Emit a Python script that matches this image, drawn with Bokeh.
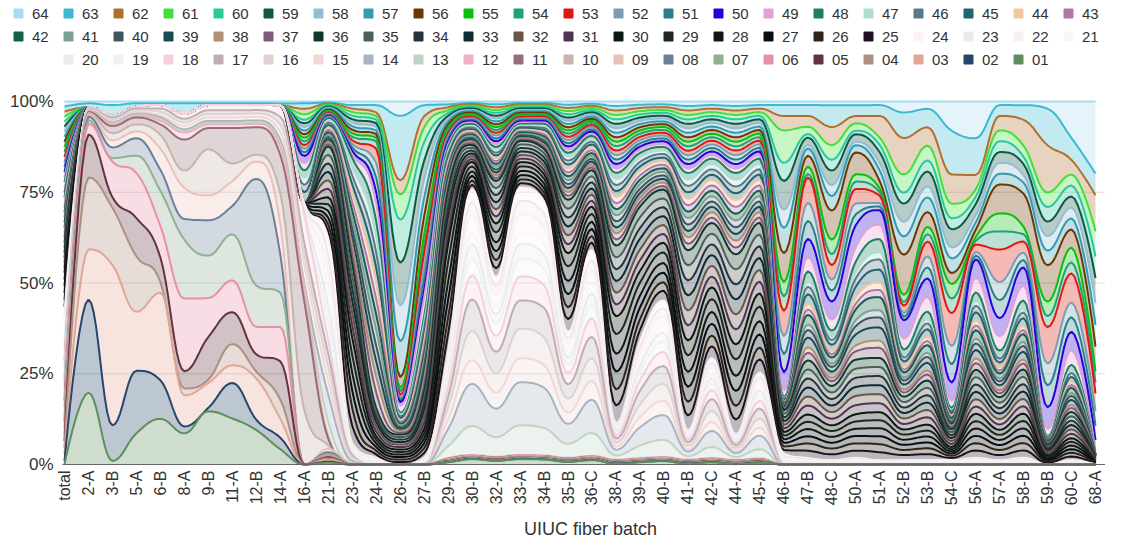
import math
import numpy as np
from bokeh.plotting import figure
from bokeh.models import Range1d
from bokeh.embed import file_html
from bokeh.resources import INLINE
from bokeh.core.properties import value

categories = ["total", "2-A", "3-B", "5-A", "6-B", "8-A", "9-B", "11-A", "12-B", "14-A",
              "16-A", "21-B", "23-A", "24-B", "26-A", "27-B", "29-A", "30-B", "32-A", "33-A",
              "34-B", "35-B", "36-C", "38-A", "39-A", "40-B", "41-B", "42-C", "44-A", "45-A",
              "46-B", "47-B", "48-C", "50-A", "51-A", "52-B", "53-B", "54-C", "56-A", "57-A",
              "58-B", "59-B", "60-C", "68-A"]

names = ["%02d" % k for k in range(1, 65)]

colors = ["#5E8F5E", "#26466A", "#E3A595", "#AD9080", "#63343F", "#E890A8", "#90B090", "#6A8098",
          "#EBC0B8", "#C8B4AC", "#947078", "#F0B0C0", "#C0D4C4", "#A8B4C4", "#F2D8D5", "#E0D2D0",
          "#C0AFB2", "#F5D0DC", "#EEF3F0", "#E8ECEF", "#FBF5F3", "#F8F0F2", "#EEE8EA", "#FDF3F4",
          "#1E1220", "#2E2419", "#050F15", "#12161A", "#1E2620", "#0B1A10", "#4E3550", "#6A5548",
          "#0F2A33", "#27333A", "#4D6058", "#0E3A2B", "#805A7A", "#B09075", "#1B4A55", "#3F5661",
          "#7F9F97", "#156048", "#B078A8", "#F0C8A2", "#22656D", "#5A7888", "#B0DDD2", "#1A8060",
          "#E0A0D8", "#2A00D8", "#2A808A", "#7A9EB0", "#E0190E", "#22A07C", "#0CBF0C", "#6B3900",
          "#339BB0", "#93BDD0", "#0E5944", "#2CC79B", "#40E03A", "#B0702F", "#3DB8D0", "#A8DCF3"]

s01 = [0, 20,1,9,13,9,15,13,10,4, 0, 0.5,0,0,0,0, 0.6,1.5,1,1.5,1.4,0.7,1.2,0.2,0.6,0.9,0.2,0.6,0.1,0.5, 0,0,0,0,0,0,0,0,0,0,0,0,0,0]
s02 = [1, 26,10,18,11,2,1,10,3,3, 0, 0.3,0,0,0,0, 0.1,0.1,0.1,0.1,0.1,0.1,0.1,0.1,0.1,0.1,0.1,0.1,0.1,0.1, 0,0,0,0,0,0,0,0,0,0,0,0,0,0]
s03 = [2, 14,45,17,25,9,7,5,12,5, 0, 0.5,0,0,0,0, 0.1,0.1,0.1,0.1,0.1,0.1,0.1,0.1,0.1,0.1,0.1,0.1,0.1,0.1, 0,0,0,0,0,0,0,0,0,0,0,0,0,0]
s04 = [2, 20,16,16,3,2,1,6,2,5, 0, 0.5,0,0,0,0, 0.1,0.1,0.1,0.1,0.1,0.1,0.1,0.1,0.1,0.1,0.1,0.1,0.1,0.1, 0,0,0,0,0,0,0,0,0,0,0,0,0,0]
s05 = [2, 12,3,11,7,5,12,9,5,10, 0, 0.3,0,0,0,0, 0.1,0.1,0.1,0.1,0.1,0.1,0.1,0.1,0.1,0.1,0.1,0.1,0.1,0.1, 0,0,0,0,0,0,0,0,0,0,0,0,0,0]
s06 = [2, 3,10,13,9,21,11,9,8,9, 0, 0.5,0,0,0,0, 0.1,0.1,0.1,0.1,0.1,0.1,0.1,0.1,0.1,0.1,0.1,0.1,0.1,0.1, 0,0,0,0,0,0,0,0,0,0,0,0,0,0]
s07 = [2, 1,1,5,10,17,12,13,12,9, 0, 0.5,0,0,0,0, 0.1,0.1,0.1,0.1,0.1,0.1,0.1,0.1,0.1,0.1,0.1,0.1,0.1,0.1, 0,0,0,0,0,0,0,0,0,0,0,0,0,0]
s08 = [2, 1,3,5,6,6,10,8,31,10, 0, 0.5,0,0,0,0, 0.1,0.1,0.1,0.1,0.1,0.1,0.1,0.1,0.1,0.1,0.1,0.1,0.1,0.1, 0,0,0,0,0,0,0,0,0,0,0,0,0,0]
s09 = [2, 0.5,2,2,6,9,7,7,5,8, 0, 1,0,0,0,0, 0.1,0.1,0.1,0.1,0.1,0.1,0.1,0.1,0.1,0.1,0.1,0.1,0.1,0.1, 0,0,0,0,0,0,0,0,0,0,0,0,0,0]
s10 = [2, 0.5,2,2,4,5,13,5,2,8, 15, 1,0,0,0,0, 0.1,0.1,0.1,0.1,0.1,0.1,0.1,0.1,0.1,0.1,0.1,0.1,0.1,0.1, 0,0,0,0,0,0,0,0,0,0,0,0,0,0]
s11 = [2, 0.3,2,2,3,9,6,10,8,10, 30, 2,0,0,0,0, 0.1,0.1,0.1,0.1,0.1,0.1,0.1,0.1,0.1,0.1,0.1,0.1,0.1,0.1, 0,0,0,0,0,0,0,0,0,0,0,0,0,0]
s12 = [2, 0.2,0.5,0.5,1,2,1,1,1,2, 3, 1,0,0,0,0, 0.2,0.2,0.2,0.2,0.2,0.2,0.2,0.2,0.2,0.2,0.2,0.2,0.2,0.2, 0,0,0,0,0,0,0,0,0,0,0,0,0,0]
s13 = [2, 0.2,0.3,0.3,0.5,0.5,0.5,0.5,0.5,1, 1, 4,0.5,0,0,0, 3.3,8.3,5.5,8.4,7.9,3.9,6.4,1.1,3.5,4.8,0.9,3.1,0.8,2.6, 0,0,0,0,0,0,0,0,0,0,0,0,0,0]
s14 = [2, 0.2,0.3,0.3,0.5,0.5,0.5,0.5,0.5,1, 1, 8,0.5,0,0,0, 4.8,12,8,12.2,11.5,5.6,9.3,1.6,5.1,7,1.3,4.5,1.1,3.8, 0,0,0,0,0,0,0,0,0,0,0,0,0,0]
s15 = [2, 0.2,0.3,0.5,0.5,1,1,1,1,2, 5, 4,0.5,0,0,0, 2.7,6.8,4.5,6.8,6.5,3.2,5.2,0.9,2.9,4,0.7,2.5,0.6,2.2, 0,0,0,0,0,0,0,0,0,0,0,0,0,0]
s16 = [2, 0.2,0.5,0.5,1,1,1,1,1,2, 3, 4,0.5,0,0,0, 3.3,8.3,5.5,8.4,7.9,3.9,6.4,1.1,3.5,4.8,0.9,3.1,0.8,2.6, 0,0,0,0,0,0,0,0,0,0,0,0,0,0]
s17 = [2, 0.2,0.5,0.5,1,1,1,1,1,2, 3, 4,0.5,0,0,0, 3,9,6,8,8.5,4,6,1.2,3.8,5,1,3.3,0.8,2.8, 0,0,0,0,0,0,0,0,0,0,0,0,0,0]
s18 = [2, 0.2,0.5,0.5,1,1.5,1.5,1.5,1.5,3, 8, 4,0.5,0,0,0, 2.7,6.8,4.5,6.8,6.5,3.2,5.2,0.9,2.9,4,0.7,2.5,0.6,2.2, 0,0,0,0,0,0,0,0,0,0,0,0,0,0]
s19 = [2, 0,0,0,0,0,0,0,0,0, 0.5, 5,0.5,0.3,0,0.3, 2,4.9,3.3,5,4.8,2.3,3.8,0.7,2.2,2.9,0.5,1.8,0.5,1.6, 0.5,0.3,0.2,0.3,0.2,0.2,0.2,0.2,0.3,0.2,0.3,0,0.2,0]
s20 = [2, 0,0,0,0,0,0,0,0,0, 0.5, 5,0.5,0.3,0,0.3, 1.65,4.1,2.75,4.2,4,1.9,3.2,0.55,1.8,2.4,0.44,1.5,0.4,1.3, 0.5,0.3,0.2,0.3,0.2,0.2,0.2,0.2,0.3,0.2,0.3,0,0.2,0]
s21 = [2, 0,0,0,0,0,0,0,0,0, 0.5, 5,0.5,0.3,0,0.3, 1.3,3.3,2.2,3.4,3.2,1.5,2.6,0.4,1.4,1.9,0.35,1.2,0.3,1, 0.5,0.3,0.2,0.3,0.2,0.2,0.2,0.2,0.3,0.2,0.3,0,0.2,0]
s22 = [2, 0,0,0,0,0,0,0,0,0, 0.5, 5,0.5,0.3,0,0.3, 2,4.9,3.3,5,4.8,2.3,3.8,0.7,2.2,2.9,0.5,1.8,0.5,1.6, 0.5,0.3,0.2,0.3,0.2,0.2,0.2,0.2,0.3,0.2,0.3,0,0.2,0]
s23 = [2, 0,0,0,0,0,0,0,0,0, 0.5, 5,0.5,0.3,0,0.3, 1.5,3.7,2.5,3.8,3.6,1.7,2.9,0.5,1.6,2.2,0.4,1.35,0.36,1.2, 0.5,0.3,0.2,0.3,0.2,0.2,0.2,0.2,0.3,0.2,0.3,0,0.2,0]
s24 = [2, 0,0,0,0,0,0,0,0,0, 0.5, 5,0.5,0.3,0,0.3, 1.5,3.7,2.5,3.8,3.6,1.7,2.9,0.5,1.6,2.2,0.4,1.35,0.36,1.2, 0.5,0.3,0.2,0.3,0.2,0.2,0.2,0.2,0.3,0.2,0.3,0,0.2,0]
s25 = [2, 0,0,0,0,0,0,0,0,0, 0, 2,5,1,0.7,1.3, 5,1.3,2.5,1.2,1.3,3.7,2,5,3.3,2.7,4.2,3.3,4.2,3.7, 1,2,1.6,2,2.2,1.4,1.6,0.6,2,1.4,2,0.4,1,0.1]
s26 = [2, 0,0,0,0,0,0,0,0,0, 0, 2,5,1,0.7,1.3, 4.5,1.2,2.3,1.1,1.2,3.3,1.8,4.5,3,2.4,3.8,3,3.8,3.3, 1,2,1.6,2,2.2,1.4,1.6,0.6,2,1.4,2,0.4,1,0.1]
s27 = [2, 0,0,0,0,0,0,0,0,0, 0, 2,5,1,0.7,1.3, 5,1.3,2.5,1.2,1.3,3.7,2,5,3.3,2.7,4.2,3.3,4.2,3.7, 1,2,1.6,2,2.2,1.4,1.6,0.6,2,1.4,2,0.4,1,0.1]
s28 = [2, 0,0,0,0,0,0,0,0,0, 0, 2,5,1,0.7,1.3, 5,1.3,2.5,1.2,1.3,3.7,2,5,3.3,2.7,4.2,3.3,4.2,3.7, 1,2,1.6,2,2.2,1.4,1.6,0.6,2,1.4,2,0.4,1,0.1]
s29 = [2, 0,0,0,0,0,0,0,0,0, 0, 2,5,1,0.7,1.3, 5.5,1.4,2.8,1.3,1.4,4.1,2.2,5.5,3.6,3,4.6,3.6,4.6,4.1, 1,2,1.6,2,2.2,1.4,1.6,0.6,2,1.4,2,0.4,1,0.1]
s30 = [2, 0,0,0,0,0,0,0,0,0, 0, 2,5,1,0.7,1.3, 5,1.3,2.5,1.2,1.3,3.7,2,5,3.3,2.7,4.2,3.3,4.2,3.7, 1,2,1.6,2,2.2,1.4,1.6,0.6,2,1.4,2,0.4,1,0.1]
s31 = [1.5, 0,0,0,0,0,0,0,0,0, 0, 2.5,3.5,1.3,0.7,1.7, 2.5,0.8,2,1,1.2,2.5,1.7,3.3,3,2.5,4.2,3,4.2,3.3, 1,2.5,1.8,2.5,2.5,1.5,2,0.8,2,1.5,2,0.5,1.2,0.3]
s32 = [1.5, 0,0,0,0,0,0,0,0,0, 0, 2.5,3.5,1.3,0.7,1.7, 2.5,0.8,2,1,1.2,2.5,1.7,3.3,3,2.5,4.2,3,4.2,3.3, 1,2.5,1.8,2.5,2.5,1.5,2,0.8,2,1.5,2,0.5,1.2,0.3]
s33 = [1.5, 0,0,0,0,0,0,0,0,0, 0, 2.5,3.5,1.3,0.7,1.7, 2.5,0.8,2,1,1.2,2.5,1.7,3.3,3,2.5,4.2,3,4.2,3.3, 1,2.5,1.8,2.5,2.5,1.5,2,0.8,2,1.5,2,0.5,1.2,0.3]
s34 = [1.5, 0,0,0,0,0,0,0,0,0, 0, 2.5,3.5,1.3,0.7,1.7, 2.5,0.8,2,1,1.2,2.5,1.7,3.3,3,2.5,4.2,3,4.2,3.3, 1,2.5,1.8,2.5,2.5,1.5,2,0.8,2,1.5,2,0.5,1.2,0.3]
s35 = [1.5, 0,0,0,0,0,0,0,0,0, 0, 2.5,3.5,1.3,0.7,1.7, 2.5,0.8,2,1,1.2,2.5,1.7,3.3,3,2.5,4.2,3,4.2,3.3, 1,2.5,1.8,2.5,2.5,1.5,2,0.8,2,1.5,2,0.5,1.2,0.3]
s36 = [1.5, 0,0,0,0,0,0,0,0,0, 0, 2.5,3.5,1.3,0.7,1.7, 2.5,0.8,2,1,1.2,2.5,1.7,3.3,3,2.5,4.2,3,4.2,3.3, 1,2.5,1.8,2.5,2.5,1.5,2,0.8,2,1.5,2,0.5,1.2,0.3]
s37 = [1.5, 0,0,0,0,0,0,0,0,0, 0, 0.7,2.5,4.3,0.5,1.7, 1,0.5,0.8,0.4,0.6,1.1,0.8,1.7,1.25,1,1.8,1.5,1.9,1.5, 0.3,2.1,1.3,2.3,2.8,1.1,1.6,0.5,1.8,1.1,1.6,0.2,1.1,0.03]
s38 = [1.5, 0,0,0,0,0,0,0,0,0, 0, 0.7,2.5,4.3,0.5,1.7, 1,0.5,0.8,0.4,0.6,1.1,0.8,1.7,1.25,1,1.8,1.5,1.9,1.5, 0.2,1.5,0.9,1.6,2,0.8,1.1,0.35,1.3,0.8,1.1,0.14,0.8,0.02]
s39 = [1.5, 0,0,0,0,0,0,0,0,0, 0, 0.7,2.5,4.3,0.5,1.7, 1,0.5,0.8,0.4,0.6,1.1,0.8,1.7,1.25,1,1.8,1.5,1.9,1.5, 0.4,2.7,1.7,3,3.6,1.4,2.1,0.65,2.3,1.4,2.1,0.26,1.4,0.04]
s40 = [1.5, 0,0,0,0,0,0,0,0,0, 0, 0.7,2.5,4.3,0.5,1.7, 1,0.5,0.8,0.4,0.6,1.1,0.8,1.7,1.25,1,1.8,1.5,1.9,1.5, 0.3,2.1,1.3,2.3,2.8,1.1,1.6,0.5,1.8,1.1,1.6,0.2,1.1,0.03]
s41 = [1.5, 0,0,0,0,0,0,0,0,0, 0, 0.7,2.5,4.3,0.5,1.7, 1,0.5,0.8,0.4,0.6,1.1,0.8,1.7,1.25,1,1.8,1.5,1.9,1.5, 0.2,1.5,0.9,1.6,2,0.8,1.1,0.35,1.3,0.8,1.1,0.14,0.8,0.02]
s42 = [1.5, 0,0,0,0,0,0,0,0,0, 0, 0.7,2.5,4.3,0.5,1.7, 1,0.5,0.8,0.4,0.6,1.1,0.8,1.7,1.25,1,1.8,1.5,1.9,1.5, 0.4,2.7,1.7,3,3.6,1.4,2.1,0.65,2.3,1.4,2.1,0.26,1.4,0.04]
s43 = [1.5, 0,0,0,0,0,0,0,0,0, 0, 0.7,2.5,4.3,0.5,1.7, 1,0.5,0.8,0.4,0.6,1.1,0.8,1.7,1.25,1,1.8,1.5,1.9,1.5, 0.2,1.5,0.9,1.6,2,0.8,1.1,0.35,1.3,0.8,1.1,0.14,0.8,0.02]
s44 = [1.5, 0,0,0,0,0,0,0,0,0, 0, 0.7,2.5,4.3,0.5,1.7, 1,0.5,0.8,0.4,0.6,1.1,0.8,1.7,1.25,1,1.8,1.5,1.9,1.5, 0.2,1.5,0.9,1.6,2,0.8,1.1,0.35,1.3,0.8,1.1,0.14,0.8,0.02]
s45 = [1.5, 0,0,0,0,0,0,0,0,0, 3, 0.7,2.5,4.3,0.5,1.7, 1,0.5,0.8,0.4,0.6,1.1,0.8,1.7,1.25,1,1.8,1.5,1.9,1.5, 0.4,2.7,1.7,3,3.6,1.4,2.1,0.65,2.3,1.4,2.1,0.26,1.4,0.04]
s46 = [1.5, 0,0,0,0,0,0,0,0,0, 2, 0.7,2.5,4.3,0.5,1.7, 1,0.5,0.8,0.4,0.6,1.1,0.8,1.7,1.25,1,1.8,1.5,1.9,1.5, 0.3,2.1,1.3,2.3,2.8,1.1,1.6,0.5,1.8,1.1,1.6,0.2,1.1,0.03]
s47 = [1.5, 0,0,0,0,0,0,0,0,0, 2, 0.7,2.5,4.3,0.5,1.7, 1,0.5,0.8,0.4,0.6,1.1,0.8,1.7,1.25,1,1.8,1.5,1.9,1.5, 0.2,1.5,0.9,1.6,2,0.8,1.1,0.35,1.3,0.8,1.1,0.14,0.8,0.02]
s48 = [1.5, 0,0,0,0,0,0,0,0,0, 2, 0.7,2.5,4.3,0.5,1.7, 1,0.5,0.8,0.4,0.6,1.1,0.8,1.7,1.25,1,1.8,1.5,1.9,1.5, 0.4,2.7,1.7,3,3.6,1.4,2.1,0.65,2.3,1.4,2.1,0.26,1.4,0.04]
s49 = [1.5, 0,0,0,0,0,0,0,0,0, 2, 0.3,1,5,2,5, 0.8,0.4,0.8,0.4,0.4,0.9,0.6,1.25,0.9,0.8,1.25,1,1.25,1, 2,4,3,4,4,3,4,2,4,4,4,2,4,1]
s50 = [1.5, 0,0,0,0,0,0,0,0,0, 2, 0.3,1,3,1,2, 0.8,0.4,0.8,0.4,0.4,0.9,0.6,1.25,0.9,0.8,1.25,1,1.25,1, 5,5,5,6,4,5,5,5,5,5,5,6,5,3]
s51 = [1.5, 0,0,0,0,0,0,0,0,0, 1, 0.3,1,4,0.5,3, 0.8,0.4,0.8,0.4,0.4,0.9,0.6,1.25,0.9,0.8,1.25,1,1.25,1, 5,5,3,3,1,1,3,5,1,5,2,6,4,4]
s52 = [1.5, 0,0,0,0,0,0,0,0,0, 1, 0.3,1,4,0.5,3, 0.8,0.4,0.8,0.4,0.4,0.9,0.6,1.25,0.9,0.8,1.25,1,1.25,1, 5,5,3,3,1,1,3,5,1,5,2,6,4,4]
s53 = [1.5, 0,0,0,0,0,0,0,0,0, 1, 0.3,1,4,1,4, 0.8,0.4,0.8,0.4,0.4,0.9,0.6,1.25,0.9,0.8,1.25,1,1.25,1, 7,7,4,4,2,2,4,9,2,9,3,10,8,5]
s54 = [1.5, 0,0,0,0,0,0,0,0,0, 1, 0.3,1,2,1,2, 0.8,0.4,0.8,0.4,0.4,0.9,0.6,1.25,0.9,0.8,1.25,1,1.25,1, 4,1,3,2,1,1,2,4,1,5,2,3,3,3]
s55 = [1.5, 0,0,0,0,0,0,0,0,0, 1, 0.3,1,1,1,3, 0.8,0.4,0.8,0.4,0.4,0.9,0.6,1.25,0.9,0.8,1.25,1,1.25,1, 4,2,4,2,1,2,2,4,1,5,2,4,4,3]
s56 = [1.5, 0,0,0,0,0,0,0,0,0, 1, 0.3,1,1,3,5, 0.8,0.4,0.8,0.4,0.4,0.9,0.6,1.25,0.9,0.8,1.25,1,1.25,1, 8,3,8,6,2,11,4,3,2,8,9,10,5,7]
s57 = [1.5, 0,0,0,0,0,0,0,0,0, 1, 0.3,1,1,10,5, 0.8,0.4,0.8,0.4,0.4,0.9,0.6,1.25,0.9,0.8,1.25,1,1.25,1, 7,2,4,2,3,5,4,4,2,3,3,4,3,6]
s58 = [1.5, 0,0,0,0,0,0,0,0,0, 1, 0.3,1,1,10,5, 0.8,0.4,0.8,0.4,0.4,0.9,0.6,1.25,0.9,0.8,1.25,1,1.25,1, 5,1,3,1,2,4,3,3,2,3,2,4,3,6]
s59 = [1.5, 0,0,0,0,0,0,0,0,0, 1, 0.3,1,1,12,5, 0.8,0.4,0.8,0.4,0.4,0.9,0.6,1.25,0.9,0.8,1.25,1,1.25,1, 8,2,4,2,3,5,4,5,3,3,3,4,3,7]
s60 = [1.5, 0,0,0,0,0,0,0,0,0, 1, 0.3,1,1,12,5, 0.8,0.4,0.8,0.4,0.4,0.9,0.6,1.25,0.9,0.8,1.25,1,1.25,1, 5,1,3,1,2,3,3,3,2,3,2,4,3,6]
s61 = [1.5, 0,0,0,0,0,0,0,0,0, 1.5, 0.3,1,1,7,4, 0.8,0.4,0.8,0.4,0.4,0.9,0.6,1.25,0.9,0.8,1.25,1,1.25,1, 9,2,4,2,2,5,4,4,2,3,3,4,3,7]
s62 = [1.5, 0,0,0,0,0,0,0,0,0, 1.5, 0.3,1,1,4,3, 0.8,0.4,0.8,0.4,0.4,0.9,0.6,1.25,0.9,0.8,1.25,1,1.25,1, 4,3,5,2,6,10,5,8,4,4,7,13,4,10]
s63 = [1.5, 1,3,1,0.5,3,0.5,0.5,0.5,0.5, 1.5, 0.3,1,2,18,3, 0.8,0.4,0.8,0.4,0.4,0.9,0.6,1.25,0.9,0.8,1.25,1,1.25,1, 3,3,6,3,3,7,5,12,10,3,4,10,6,6]
s64 = [1.5, 0.5,1,0.5,0.5,0.5,0.5,0.5,0.5,0.5, 0.5, 0.3,1,1,4,1, 0.8,0.4,0.8,0.4,0.4,0.9,0.6,1.25,0.9,0.8,1.25,1,1.25,1, 1,1,1,1,1,3,2,8,10,1,1,2,10,20]

series = [s01, s02, s03, s04, s05, s06, s07, s08, s09, s10, s11, s12, s13, s14, s15, s16,
          s17, s18, s19, s20, s21, s22, s23, s24, s25, s26, s27, s28, s29, s30, s31, s32,
          s33, s34, s35, s36, s37, s38, s39, s40, s41, s42, s43, s44, s45, s46, s47, s48,
          s49, s50, s51, s52, s53, s54, s55, s56, s57, s58, s59, s60, s61, s62, s63, s64]

y_ticks = [0, 25, 50, 75, 100]
y_tick_labels = ["0%", "25%", "50%", "75%", "100%"]
x_title = "UIUC fiber batch"

FONT = "Liberation Sans"
TXT = "#333333"

# ---------------- canvas geometry (pixels) ----------------
W, H = 1105, 540
PLOT_LEFT = 62.0
X_FIRST, X_LAST = 64.0, 1095.0          # pixel of first / last category
Y_TOP, Y_BOT = 101.0, 464.0             # pixel of 100% / 0%
ncat = len(categories)
DX = (X_LAST - X_FIRST) / (ncat - 1)
DY = (Y_BOT - Y_TOP) / 100.0


def xd(px):
    return (px - X_FIRST) / DX


def yd(py):
    return (Y_BOT - py) / DY


# ---------------- percent stacking ----------------
data = np.array(series, dtype=float)
pct = data / data.sum(axis=0) * 100.0
cum = np.vstack([np.zeros(ncat), np.cumsum(pct, axis=0)])
xs = np.arange(ncat, dtype=float)


def spline_curve(x, y, n=10):
    """Highcharts-style spline path, sampled for drawing."""
    N = len(x)
    lcx = x.copy(); lcy = y.copy(); rcx = x.copy(); rcy = y.copy()
    for i in range(1, N - 1):
        px, py = x[i], y[i]
        lx, ly = x[i - 1], y[i - 1]
        nx, ny = x[i + 1], y[i + 1]
        a = (1.5 * px + lx) / 2.5
        b = (1.5 * py + ly) / 2.5
        c = (1.5 * px + nx) / 2.5
        d = (1.5 * py + ny) / 2.5
        corr = ((d - b) * (c - px)) / (c - a) + py - d
        b += corr
        d += corr
        if b > ly and b > py:
            b = max(ly, py); d = 2 * py - b
        elif b < ly and b < py:
            b = min(ly, py); d = 2 * py - b
        if d > ny and d > py:
            d = max(ny, py); b = 2 * py - d
        elif d < ny and d < py:
            d = min(ny, py); b = 2 * py - d
        lcx[i], lcy[i], rcx[i], rcy[i] = a, b, c, d
    t = np.linspace(0, 1, n, endpoint=False)
    mt = 1 - t
    X, Y = [], []
    for i in range(1, N):
        X.append(mt**3 * x[i-1] + 3 * mt**2 * t * rcx[i-1] + 3 * mt * t**2 * lcx[i] + t**3 * x[i])
        Y.append(mt**3 * y[i-1] + 3 * mt**2 * t * rcy[i-1] + 3 * mt * t**2 * lcy[i] + t**3 * y[i])
    X.append(np.array([x[-1]]))
    Y.append(np.array([y[-1]]))
    return np.concatenate(X), np.concatenate(Y)


curves = [spline_curve(xs, cum[k]) for k in range(cum.shape[0])]
X = curves[0][0]

p = figure(width=W, height=H, x_range=Range1d(xd(0), xd(W)), y_range=Range1d(yd(H), yd(0)),
           output_backend="svg", toolbar_location=None, min_border=0,
           x_axis_type=None, y_axis_type=None)
p.outline_line_color = None
p.background_fill_color = "white"
p.border_fill_color = "white"

# grid lines
p.segment(x0=[xd(PLOT_LEFT)] * 4, y0=[0, 25, 50, 75], x1=[xd(W)] * 4, y1=[0, 25, 50, 75],
          line_color="#dddddd", line_width=1)

# stacked areas (series "64" first, "01" last => on top)
for k in range(63, -1, -1):
    lo = curves[k][1]
    hi = curves[k + 1][1]
    p.varea(x=X, y1=lo, y2=hi, fill_color=colors[k], fill_alpha=0.3)
    p.line(X, hi, line_color=colors[k], line_width=2)

# x axis line
p.segment(x0=[xd(PLOT_LEFT)], y0=[0], x1=[xd(W)], y1=[0], line_color="#666666", line_width=1)

# y tick labels
p.text(x=[xd(53)] * len(y_ticks), y=y_ticks, text=y_tick_labels, text_font=value(FONT),
       text_font_size="17px", text_color=TXT, text_align="right", text_baseline="middle")

# x tick labels (vertical)
p.text(x=list(range(ncat)), y=[yd(470)] * ncat, text=categories, angle=math.pi / 2,
       text_font=value(FONT), text_font_size="16px", text_color=TXT,
       text_align="right", text_baseline="middle")

# x axis title
p.text(x=[xd(590)], y=[yd(528)], text=[x_title], text_font=value(FONT),
       text_font_size="18px", text_color=TXT, text_align="center", text_baseline="middle")

# legend: 64 .. 01, 22 per row, last row centred
row_py = [13, 36, 59]
lx, ly, lc, lt = [], [], [], []
for j, k in enumerate(range(63, -1, -1)):
    if j < 44:
        r, s = j // 22, j % 22
    else:
        r, s = 2, (j - 44) + 1
    lx.append(18.0 + 50.0 * s)
    ly.append(row_py[r])
    lc.append(colors[k])
    lt.append(names[k])
p.scatter(x=[xd(v) for v in lx], y=[yd(v) for v in ly], marker="square", size=9,
          fill_color=lc, line_color=lc)
p.text(x=[xd(v + 13.5) for v in lx], y=[yd(v) for v in ly], text=lt, text_font=value(FONT),
       text_font_size="15px", text_color=TXT, text_baseline="middle", text_align="left")

open("out.html", "w").write(file_html(p, INLINE))
